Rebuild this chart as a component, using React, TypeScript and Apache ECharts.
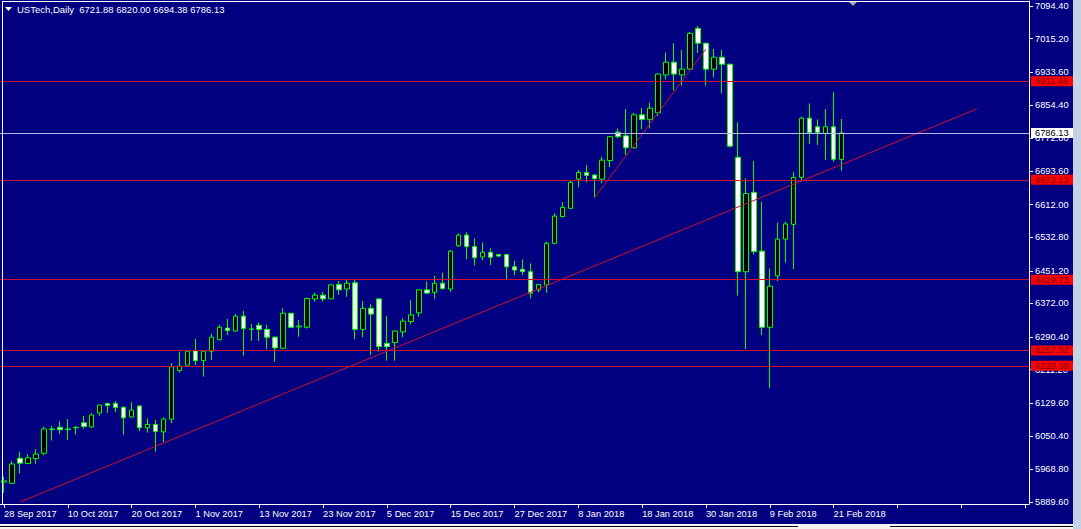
import React, { useEffect, useRef } from "react";
import * as echarts from "echarts";

const symbolName = "USTech";
const timeframe = "Daily";

const dates = [
  "28 Sep 2017", "29 Sep 2017",
  "2 Oct 2017", "3 Oct 2017", "4 Oct 2017", "5 Oct 2017", "6 Oct 2017", "9 Oct 2017", "10 Oct 2017", "11 Oct 2017",
  "12 Oct 2017", "13 Oct 2017", "16 Oct 2017", "17 Oct 2017", "18 Oct 2017", "19 Oct 2017", "20 Oct 2017", "23 Oct 2017",
  "24 Oct 2017", "25 Oct 2017", "26 Oct 2017", "27 Oct 2017", "30 Oct 2017", "31 Oct 2017",
  "1 Nov 2017", "2 Nov 2017", "3 Nov 2017", "6 Nov 2017", "7 Nov 2017", "8 Nov 2017", "9 Nov 2017", "10 Nov 2017",
  "13 Nov 2017", "14 Nov 2017", "15 Nov 2017", "16 Nov 2017", "17 Nov 2017", "20 Nov 2017", "21 Nov 2017", "22 Nov 2017",
  "23 Nov 2017", "24 Nov 2017", "27 Nov 2017", "28 Nov 2017", "29 Nov 2017", "30 Nov 2017",
  "1 Dec 2017", "4 Dec 2017", "5 Dec 2017", "6 Dec 2017", "7 Dec 2017", "8 Dec 2017", "11 Dec 2017", "12 Dec 2017",
  "13 Dec 2017", "14 Dec 2017", "15 Dec 2017", "18 Dec 2017", "19 Dec 2017", "20 Dec 2017", "21 Dec 2017", "22 Dec 2017",
  "25 Dec 2017", "26 Dec 2017", "27 Dec 2017", "28 Dec 2017", "29 Dec 2017",
  "1 Jan 2018", "2 Jan 2018", "3 Jan 2018", "4 Jan 2018", "5 Jan 2018", "8 Jan 2018", "9 Jan 2018", "10 Jan 2018",
  "11 Jan 2018", "12 Jan 2018", "15 Jan 2018", "16 Jan 2018", "17 Jan 2018", "18 Jan 2018", "19 Jan 2018", "22 Jan 2018",
  "23 Jan 2018", "24 Jan 2018", "25 Jan 2018", "26 Jan 2018", "29 Jan 2018", "30 Jan 2018", "31 Jan 2018",
  "1 Feb 2018", "2 Feb 2018", "5 Feb 2018", "6 Feb 2018", "7 Feb 2018", "8 Feb 2018", "9 Feb 2018", "12 Feb 2018",
  "13 Feb 2018", "14 Feb 2018", "15 Feb 2018", "16 Feb 2018", "19 Feb 2018", "20 Feb 2018", "21 Feb 2018", "22 Feb 2018",
];

const opens = [
  5938, 5935, 5996, 5983, 5995, 6008, 6067, 6071, 6067, 6070,
  6082, 6072, 6106, 6129, 6129, 6120, 6096, 6123, 6070, 6078,
  6060, 6091, 6209, 6222, 6257, 6233, 6256, 6284, 6312, 6305,
  6341, 6309, 6319, 6309, 6290, 6263, 6348, 6315, 6314, 6383,
  6392, 6383, 6418, 6407, 6422, 6309, 6360, 6383, 6275, 6277,
  6303, 6328, 6349, 6405, 6399, 6421, 6407, 6512, 6538, 6510,
  6485, 6496, 6491, 6491, 6461, 6455, 6449, 6405, 6417, 6518,
  6583, 6603, 6674, 6690, 6684, 6674, 6719, 6788, 6779, 6750,
  6830, 6819, 6835, 6927, 6958, 6927, 6941, 7040, 7004, 6941,
  6970, 6953, 6727, 6449, 6642, 6499, 6314, 6439, 6528, 6564,
  6678, 6822, 6801, 6785, 6801, 6721.88,
];
const highs = [
  5951, 5989, 6012, 6006, 6018, 6073, 6074, 6086, 6091, 6074,
  6099, 6105, 6126, 6131, 6135, 6121, 6132, 6125, 6093, 6089,
  6095, 6227, 6255, 6259, 6286, 6258, 6298, 6320, 6334, 6346,
  6354, 6322, 6326, 6320, 6292, 6360, 6349, 6332, 6386, 6398,
  6400, 6418, 6426, 6429, 6429, 6378, 6370, 6384, 6341, 6307,
  6336, 6380, 6406, 6425, 6439, 6447, 6502, 6542, 6545, 6530,
  6520, 6506, 6492, 6492, 6476, 6479, 6469, 6419, 6522, 6591,
  6618, 6669, 6696, 6708, 6686, 6728, 6778, 6797, 6844, 6835,
  6846, 6860, 6931, 6981, 7004, 6988, 7031, 7046, 7005, 6990,
  6988, 6954, 6812, 6676, 6718, 6619, 6457, 6568, 6571, 6692,
  6826, 6858, 6819, 6844, 6885, 6820.0,
];
const lows = [
  5912, 5933, 5959, 5982, 5982, 6003, 6039, 6055, 6040, 6054,
  6068, 6070, 6099, 6106, 6108, 6053, 6095, 6062, 6058, 6012,
  6035, 6081, 6204, 6222, 6222, 6194, 6235, 6282, 6295, 6303,
  6245, 6281, 6281, 6261, 6230, 6261, 6313, 6291, 6311, 6376,
  6376, 6382, 6393, 6388, 6285, 6290, 6247, 6255, 6233, 6233,
  6290, 6321, 6340, 6395, 6383, 6405, 6400, 6510, 6479, 6464,
  6477, 6465, 6484, 6431, 6441, 6441, 6384, 6399, 6398, 6516,
  6581, 6601, 6654, 6666, 6628, 6664, 6703, 6773, 6733, 6749,
  6795, 6797, 6827, 6916, 6889, 6901, 6939, 6980, 6901, 6921,
  6882, 6751, 6391, 6261, 6491, 6295, 6166, 6426, 6471, 6455,
  6668, 6759, 6757, 6720, 6716, 6694.38,
];
const closes = [
  5941, 5982, 5984, 5997, 6006, 6067, 6066, 6065, 6066, 6071,
  6073, 6101, 6125, 6124, 6119, 6094, 6113, 6070, 6078, 6061,
  6091, 6218, 6220, 6256, 6233, 6256, 6290, 6314, 6306, 6341,
  6311, 6310, 6309, 6290, 6264, 6348, 6314, 6317, 6384, 6392,
  6383, 6417, 6405, 6421, 6309, 6360, 6346, 6267, 6267, 6305,
  6329, 6344, 6405, 6397, 6421, 6408, 6499, 6538, 6510, 6483,
  6496, 6484, 6487, 6461, 6453, 6449, 6397, 6418, 6518, 6584,
  6605, 6666, 6690, 6683, 6675, 6720, 6777, 6777, 6750, 6830,
  6819, 6846, 6929, 6958, 6929, 6941, 7028, 7004, 6941, 6970,
  6953, 6754, 6449, 6639, 6498, 6314, 6414, 6528, 6565, 6678,
  6822, 6787, 6787, 6801, 6722, 6786.13,
];

const priceTicks = [
  5889.6, 5968.8, 6050.4, 6129.6, 6211.2, 6290.4, 6372.0, 6451.2,
  6532.8, 6612.0, 6693.6, 6772.8, 6854.4, 6933.6, 7015.2, 7094.4,
];
const levelLines = [6911.46, 6672.13, 6429.73, 6257.92, 6220.38];
const bidPrice = 6786.13;
const trendLong = [[2, 5889.5], [122, 6844.9]];
const trendShort = [[74, 6628.0], [88, 6990.0]];
const futureSlots = 23;
const yMin = 5884.8;
const yMax = 7106.55;

const NAVY = "#000080";
const RED = "#D0102E";
const BID = "#B8B8E8";
const GREEN = "#00FF00";
const FONT = "'Liberation Sans', Arial, sans-serif";
const FS = 9.3;

export default function App() {
  const ref = useRef<HTMLDivElement>(null);
  useEffect(() => {
    if (!ref.current) return;
    const chart = echarts.init(ref.current, undefined, { renderer: "svg" });
    const cats = dates.concat(Array(futureSlots).fill(""));
    const candles = opens.map((o, i) => [o, closes[i], lows[i], highs[i]]);
    const last = opens.length - 1;
    const titleText = `${symbolName},${timeframe}  ${opens[last].toFixed(2)} ${highs[last].toFixed(2)} ${lows[last].toFixed(2)} ${closes[last].toFixed(2)}`;

    const markLabel = {
      show: true,
      position: "end",
      distance: 2,
      fontSize: FS,
      fontFamily: FONT,
      lineHeight: 10,
      padding: [0, 6, 0, 4],
      formatter: (p: any) => Number(p.value).toFixed(2),
    };

    const option: any = {
      animation: false,
      backgroundColor: NAVY,
      grid: { left: -1.7, top: 1, width: 1030.7, height: 503, show: false },
      xAxis: {
        type: "category",
        data: cats,
        boundaryGap: true,
        axisLine: { show: true, lineStyle: { color: "#FFFFFF", width: 1 } },
        axisTick: { show: true, alignWithLabel: true, interval: 7, length: 4, lineStyle: { color: "#FFFFFF" } },
        axisLabel: {
          show: true, interval: 7, color: "#FFFFFF", fontSize: FS, fontFamily: FONT,
          align: "left", margin: 5, hideOverlap: false,
        },
        splitLine: { show: false },
      },
      yAxis: {
        type: "value",
        position: "right",
        min: yMin,
        max: yMax,
        scale: true,
        axisLine: { show: true, lineStyle: { color: "#FFFFFF", width: 1 } },
        axisTick: { show: true, length: 4, customValues: priceTicks, lineStyle: { color: "#FFFFFF" } },
        axisLabel: {
          show: true, customValues: priceTicks, color: "#FFFFFF", fontSize: FS, fontFamily: FONT, margin: 6,
          formatter: (v: number) => v.toFixed(2),
        },
        splitLine: { show: false },
      },
      series: [
        {
          type: "candlestick",
          data: candles,
          barWidth: 5,
          z: 2,
          itemStyle: {
            color: "#000000",
            color0: "#FFFFFF",
            borderColor: GREEN,
            borderColor0: GREEN,
            borderColorDoji: GREEN,
            borderWidth: 1,
          },
        },
        {
          type: "line",
          data: [],
          z: 5,
          markLine: {
            silent: true,
            symbol: ["none", "none"],
            animation: false,
            lineStyle: { type: "solid", width: 1, color: RED },
            label: { ...markLabel, backgroundColor: "#FF0000", color: "#7A0000" },
            data: levelLines.map((v) => ({ yAxis: v })),
          },
        },
        {
          type: "line",
          data: [],
          z: 5,
          markLine: {
            silent: true,
            symbol: ["none", "none"],
            animation: false,
            lineStyle: { type: "solid", width: 1, color: BID },
            label: { ...markLabel, backgroundColor: "#FFFFFF", color: "#000000" },
            data: [{ yAxis: bidPrice }],
          },
        },
        {
          type: "line",
          data: trendLong,
          symbol: "none",
          lineStyle: { color: RED, width: 1 },
          z: 4,
        },
        {
          type: "line",
          data: trendShort,
          symbol: "none",
          lineStyle: { color: RED, width: 1 },
          z: 4,
        },
      ],
      graphic: [
        { type: "line", shape: { x1: 2.5, y1: 1, x2: 2.5, y2: 504 }, style: { stroke: "#FFFFFF", lineWidth: 1 }, z: 10 },
        { type: "line", shape: { x1: 2, y1: 1.5, x2: 1029, y2: 1.5 }, style: { stroke: "#FFFFFF", lineWidth: 1 }, z: 10 },
        { type: "polygon", shape: { points: [[5, 7], [12, 7], [8.5, 11]] }, style: { fill: "#FFFFFF" }, z: 10 },
        {
          type: "text", x: 17, y: 9.5, z: 10,
          style: { text: titleText, fill: "#FFFFFF", font: `${FS + 0.2}px ${FONT}`, verticalAlign: "middle", textAlign: "left" },
        },
        { type: "polygon", shape: { points: [[849, 2], [857, 2], [853, 6]] }, style: { fill: "#A8A8A8" }, z: 10 },
        { type: "rect", shape: { x: 1073, y: 0, width: 8, height: 529 }, style: { fill: "#C4D2E4" }, z: 10 },
        { type: "rect", shape: { x: 0, y: 524, width: 1073, height: 5 }, style: { fill: "#F4F4F4" }, z: 10 },
        { type: "line", shape: { x1: 0, y1: 526.5, x2: 798, y2: 526.5 }, style: { stroke: "#000000", lineWidth: 1 }, z: 11 },
        { type: "line", shape: { x1: 890, y1: 526.5, x2: 1073, y2: 526.5 }, style: { stroke: "#000000", lineWidth: 1 }, z: 11 },
      ],
    };
    chart.setOption(option);
    return () => chart.dispose();
  }, []);

  return (
    <div
      ref={ref}
      style={{ position: "absolute", left: 0, top: 0, width: 1081, height: 529 }}
    />
  );
}
